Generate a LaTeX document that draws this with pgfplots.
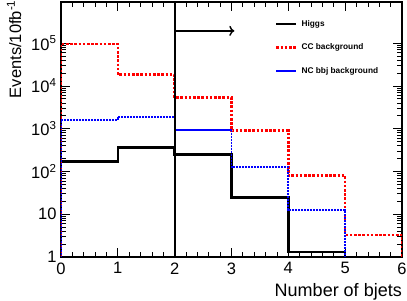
\documentclass[border=0pt]{standalone}
\usepackage{fontspec}
\setmainfont{Liberation Sans}
\usepackage{pgfplots}
\pgfplotsset{compat=1.18}
\usetikzlibrary{arrows.meta}
\begin{document}
\begin{tikzpicture}
\begin{axis}[
  name=ax,
  scale only axis,
  width=341pt, height=255pt,
  xmin=0, xmax=6,
  ymode=log, ymin=1, ymax=9.2e5,
  xtick={0,1,2,3,4,5,6},
  minor x tick num=4,
  ytick={1,10,100,1000,10000,100000},
  yticklabels={1,10,10\textsuperscript{2},10\textsuperscript{3},10\textsuperscript{4},10\textsuperscript{5}},
  /pgf/number format/assume math mode=true,
  tick label style={font=\fontsize{16.5}{18}\selectfont},
  xticklabel style={yshift=-2pt},
  yticklabel style={xshift=-1pt},
  tick align=inside,
  major tick length=9pt,
  minor tick length=5pt,
  every tick/.style={black, line width=0.8pt},
  axis line style={line width=1.6pt},
  clip=true,
  legend style={draw=none, fill=none, at={(rel axis cs:0.6276,0.93)}, anchor=north west,
    font=\fontsize{8.3}{9}\selectfont\bfseries, row sep=16pt, inner sep=0pt,
    nodes={inner xsep=4pt, inner ysep=0pt}},
  legend cell align=left,
  legend image code/.code={\draw[#1] (0pt,0pt) -- (20pt,0pt);},
]
\addplot[const plot mark left, black, line width=2.4pt] coordinates {
  (0,0.5) (0,170) (1,360) (2,252) (3,24.4) (4,1.31) (5,0.5) (6,0.5)};
\addlegendentry{Higgs}
\addplot[const plot mark left, red, line width=2.4pt, dash pattern=on 2.6pt off 1.6pt] coordinates {
  (0,0.5) (0,96000) (1,18400) (2,5330) (3,900) (4,80) (5,3.3) (6,3.3) (6,0.5)};
\addlegendentry{CC background}
\addplot[const plot mark left, blue, line width=1.8pt, dash pattern=on 2.2pt off 0.8pt] coordinates {
  (0,0.5) (0,1600) (1,1880) (2,950) (3,127) (4,12.6) (5,0.5) (6,0.5)};
\addlegendentry{NC bbj background}
\draw[black, line width=2pt] (axis cs:2,1) -- (axis cs:2,9.2e5);
\draw[black, line width=1.4pt, -{To[length=5pt,width=10pt]}] (axis cs:2,1.94e5) -- (axis cs:3.05,1.94e5);
\end{axis}
\node[rotate=90, anchor=east, inner sep=0pt, font=\fontsize{16.5}{18}\selectfont] at ([xshift=-47pt,yshift=2pt]ax.north west) {Events/10fb\textsuperscript{-1}};
\node[anchor=north east, inner sep=0pt, font=\fontsize{18}{20}\selectfont] at ([yshift=-26pt]ax.south east) {Number of bjets};
\pgfresetboundingbox
\path[use as bounding box] ([xshift=-61pt,yshift=-44pt]ax.south west) rectangle ([xshift=5pt,yshift=2pt]ax.north east);
\end{tikzpicture}
\end{document}
